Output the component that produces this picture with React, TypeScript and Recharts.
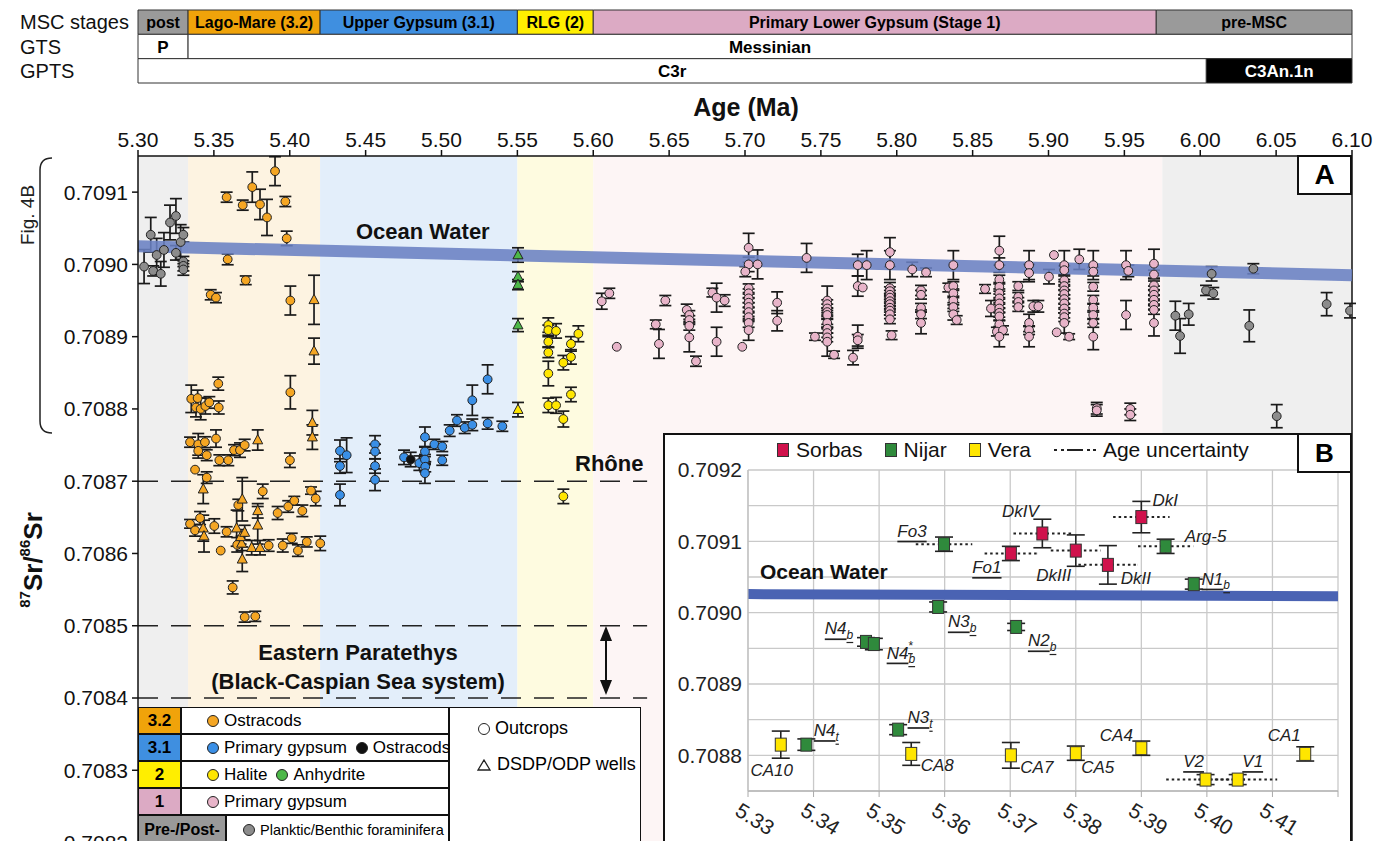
import React from "react";
import {
  ComposedChart,
  Scatter,
  ErrorBar,
  XAxis,
  YAxis,
  ReferenceArea,
  ReferenceLine,
  CartesianGrid,
} from "recharts";

const FONT = "'Liberation Sans', Arial, Helvetica, sans-serif";
const NARROW = "'Liberation Sans Narrow', 'Arial Narrow', 'Liberation Sans', Arial, sans-serif";

// ---- header bars (age boundaries in Ma) ----
const rowNames = ["MSC stages", "GTS", "GPTS"];
const stageNames = ["post", "Lago-Mare (3.2)", "Upper Gypsum (3.1)", "RLG (2)", "Primary Lower Gypsum (Stage 1)", "pre-MSC"];
const stageBounds = [5.3, 5.333, 5.42, 5.55, 5.6, 5.971, 6.1];
const stageColors = ["#9a9a9a", "#f0a30a", "#3f8fe0", "#ffee00", "#dcaac4", "#9a9a9a"];
const gtsNames = ["P", "Messinian"];
const gtsBounds = [5.3, 5.333, 6.1];
const gptsNames = ["C3r", "C3An.1n"];
const gptsBounds = [5.3, 6.004, 6.1];

// background shading of panel A
const bandBounds = [5.3, 5.333, 5.42, 5.55, 5.6, 5.975, 6.1];
const bandColors = ["#efefef", "#fdf3e1", "#e3eefa", "#fefbe0", "#fdf5f5", "#efefef"];

const xTicks = [5.3, 5.35, 5.4, 5.45, 5.5, 5.55, 5.6, 5.65, 5.7, 5.75, 5.8, 5.85, 5.9, 5.95, 6.0, 6.05, 6.1];
const yTicks = [0.7082, 0.7083, 0.7084, 0.7085, 0.7086, 0.7087, 0.7088, 0.7089, 0.709, 0.7091];

// ocean water trend (start, end)
const oceanX = [5.3, 6.1];
const oceanY = [0.709025, 0.708985];
const refLevels = [0.7087, 0.7085, 0.7084];

// ---- panel A data: [age, 87Sr/86Sr, 2sigma] ----
const foraminifera = [
  [5.304, 0.708997, 0.0000235], [5.3084, 0.709041, 0.000024], [5.31, 0.708991, 0.000007],
  [5.3123, 0.709013, 0.000023], [5.315, 0.708987, 0.000017], [5.3171, 0.70902, 0.000024],
  [5.3211, 0.709058, 0.000024], [5.325, 0.709067, 0.000024], [5.325, 0.709016, 0.00001],
  [5.3281, 0.709031, 0.000024], [5.3299, 0.709041, 0.00001], [5.3299, 0.709004, 0.000007],
  [5.3299, 0.708998, 0.000007], [5.3299, 0.708993, 0.000008],
  [5.9836, 0.708929, 0.00002], [5.9867, 0.708901, 0.000024], [5.9924, 0.708931, 0.000015],
  [6.0038, 0.708964, 0.000007], [6.0086, 0.70896, 0.000008], [6.0075, 0.708987, 0.00001],
  [6.0323, 0.708915, 0.000022], [6.035, 0.708994, 0.000007], [6.0504, 0.70879, 0.000016],
  [6.0833, 0.708945, 0.000016], [6.0987, 0.708936, 0.00001],
];

const lagoMareOstracods = [
  [5.3584, 0.709093, 0.000007], [5.369, 0.709082, 0.000007], [5.3753, 0.709107, 0.000021],
  [5.3804, 0.709083, 0.000021], [5.385, 0.709065, 0.000025], [5.3903, 0.709129, 0.00002],
  [5.3971, 0.709087, 0.000007], [5.398, 0.709036, 0.00001], [5.3591, 0.709007, 0.0000075],
  [5.371, 0.708978, 0.000006], [5.3479, 0.708958, 0.000007], [5.3514, 0.708954, 0.000007],
  [5.4004, 0.70895, 0.00002], [5.4004, 0.708823, 0.000023], [5.3529, 0.708835, 0.000009],
  [5.3532, 0.708802, 0.000009], [5.3351, 0.708814, 0.000019], [5.3382, 0.708802, 0.000013],
  [5.3393, 0.708815, 0.000011], [5.3413, 0.7088, 0.000015], [5.3444, 0.708804, 0.000011],
  [5.347, 0.708809, 0.000008], [5.3343, 0.708754, 0.000007], [5.3397, 0.708751, 0.000015],
  [5.3397, 0.708742, 0.00001], [5.3441, 0.708754, 0.0000075], [5.3453, 0.708736, 0.0000075],
  [5.3514, 0.708759, 0.000012], [5.3536, 0.708729, 0.0000075], [5.3595, 0.708729, 0.0000075],
  [5.3633, 0.708743, 0.0000075], [5.3672, 0.708743, 0.00001], [5.3703, 0.70875, 0.000008],
  [5.4001, 0.708729, 0.00001], [5.3376, 0.708716, 0], [5.3453, 0.708705, 0.000008],
  [5.3409, 0.708649, 0.000009], [5.3343, 0.708641, 0.000006], [5.3376, 0.708632, 0.000008],
  [5.3503, 0.708638, 0.00001], [5.3545, 0.708604, 0], [5.3584, 0.70863, 0.000007],
  [5.3661, 0.708667, 0.000008], [5.3654, 0.708612, 0.00001], [5.3822, 0.708686, 0.00001],
  [5.3861, 0.708611, 0.000008], [5.392, 0.708656, 0.000009], [5.3954, 0.708611, 0.000009],
  [5.399, 0.708665, 0.000008], [5.4013, 0.708621, 0.000007], [5.403, 0.708673, 0.000006],
  [5.4054, 0.708604, 0.000008], [5.4083, 0.708659, 0.000008], [5.4112, 0.708616, 0.000007],
  [5.414, 0.708687, 0.000005], [5.4171, 0.708676, 0.00001], [5.4201, 0.708614, 0.00001],
  [5.3624, 0.708553, 0.000009], [5.3703, 0.708512, 0.000007], [5.3773, 0.708513, 0.000007],
];

const lagoMareWells = [
  [5.416, 0.708951, 0.000034], [5.416, 0.70888, 0.000018], [5.4149, 0.708781, 0.000017],
  [5.4149, 0.708761, 0.000017], [5.3789, 0.708757, 0.000014], [5.343, 0.708689, 0.00002],
  [5.343, 0.708635, 0.000018], [5.3435, 0.708624, 0.000022], [5.3687, 0.708675, 0.00003],
  [5.365, 0.708635, 0.000025], [5.3683, 0.708614, 0.00001], [5.3676, 0.708623, 0.00001],
  [5.3703, 0.708629, 0.00001], [5.3687, 0.708592, 0.000017], [5.3749, 0.708608, 0.00001],
  [5.3789, 0.708659, 0.00001], [5.3789, 0.708639, 0.000026], [5.3804, 0.708608, 0.00001],
];

const upperGypsum = [
  [5.4331, 0.708742, 0.000015], [5.4331, 0.708721, 0.00001], [5.4331, 0.708681, 0.000015],
  [5.4375, 0.708736, 0.000024], [5.4562, 0.708751, 0.000012], [5.4562, 0.708741, 0.00001],
  [5.4562, 0.708721, 0.00001], [5.4562, 0.708702, 0.000015], [5.4753, 0.708733, 0.00001],
  [5.4854, 0.708725, 0.00001], [5.4891, 0.708761, 0.000014], [5.4891, 0.708741, 0.000007],
  [5.4891, 0.70873, 0.000007], [5.4893, 0.70872, 0.000007], [5.4891, 0.708711, 0.000014],
  [5.4953, 0.708751, 0.000007], [5.5005, 0.708748, 0.000007], [5.5005, 0.708729, 0.000007],
  [5.5054, 0.70877, 0.000008], [5.5102, 0.708784, 0.000008], [5.5153, 0.708774, 0.000008],
  [5.5203, 0.708778, 0.000008], [5.5203, 0.708812, 0.000021], [5.5304, 0.70878, 0.000008],
  [5.5304, 0.708841, 0.00002], [5.5401, 0.708776, 0.000007],
];
const upperGypsumOstracods = [[5.4797, 0.70873, 0.00001]];

const halite = [
  [5.5704, 0.708916, 0.00001], [5.5704, 0.708909, 0.000007], [5.5704, 0.708893, 0.000007],
  [5.5704, 0.708878, 0.000007], [5.5704, 0.708849, 0.000017], [5.5704, 0.708805, 0.00001],
  [5.5755, 0.708908, 0.00001], [5.5755, 0.708805, 0.000011], [5.5803, 0.708864, 0.00001],
  [5.5803, 0.708786, 0.000011], [5.5853, 0.70889, 0.00001], [5.5853, 0.708872, 0.00001],
  [5.5853, 0.70882, 0.00001], [5.5902, 0.708904, 0.000011], [5.5803, 0.708679, 0.00001],
];
const haliteWells = [[5.5504, 0.708799, 0.00001]];
const anhydriteWells = [
  [5.5504, 0.709013, 0.00001], [5.5504, 0.708983, 0.000007], [5.5504, 0.708972, 0.000007],
  [5.5504, 0.708916, 0.000009],
];

const lowerGypsum = [
  [5.6056, 0.708949, 0.000011], [5.6106, 0.70896, 0.000007], [5.6155, 0.708886, 0],
  [5.6412, 0.708917, 0.000006], [5.6433, 0.70889, 0.00002], [5.6475, 0.70895, 0.000007],
  [5.6616, 0.708937, 0.000008], [5.6633, 0.70893, 0.000006], [5.6633, 0.708923, 0.000006],
  [5.6633, 0.708915, 0.000006], [5.6633, 0.708899, 0.00002], [5.6677, 0.708866, 0.000007],
  [5.6785, 0.708961, 0.000006], [5.6813, 0.708954, 0.00002], [5.6813, 0.708893, 0.00002],
  [5.6866, 0.70895, 0.000008], [5.6982, 0.708886, 0], [5.7024, 0.709023, 0.00002],
  [5.7024, 0.709, 0.00001], [5.7002, 0.70899, 0.000007],
  [5.7024, 0.708967, 0.000006], [5.7024, 0.70896, 0.000006], [5.7024, 0.708953, 0.000006],
  [5.7024, 0.708947, 0.000006], [5.7024, 0.708941, 0.000006], [5.7024, 0.708934, 0.000006],
  [5.7024, 0.708927, 0.000006], [5.7024, 0.708919, 0.000006], [5.7024, 0.708909, 0.000014],
  [5.7083, 0.709, 0.00002], [5.7212, 0.708947, 0.000015], [5.7212, 0.708922, 0.000014],
  [5.7406, 0.709009, 0.00002], [5.7461, 0.7089, 0.000005],
  [5.7542, 0.70895, 0.00002], [5.7542, 0.708945, 0.000006], [5.7542, 0.708939, 0.000006],
  [5.7542, 0.708934, 0.000006], [5.7542, 0.70893, 0.000006], [5.7542, 0.708919, 0.000006],
  [5.7542, 0.708911, 0.000006], [5.7542, 0.708905, 0.000006], [5.7542, 0.708899, 0.000006],
  [5.7542, 0.708893, 0.00002], [5.7587, 0.708875, 0.000005], [5.7712, 0.708871, 0.00001],
  [5.7743, 0.7089, 0.000016], [5.7743, 0.708895, 0.000008], [5.7743, 0.708999, 0.000015],
  [5.7743, 0.70897, 0.000014], [5.7776, 0.708968, 0], [5.7802, 0.708999, 0.00002],
  [5.7955, 0.709017, 0.00002], [5.7955, 0.708999, 0.00002],
  [5.7955, 0.708967, 0.000008], [5.7955, 0.708963, 0.000006], [5.7955, 0.708958, 0.000006],
  [5.7955, 0.708954, 0.000006], [5.7955, 0.708949, 0.000006], [5.7955, 0.708945, 0.000006],
  [5.7955, 0.70894, 0.000006], [5.7955, 0.708936, 0.000006], [5.7955, 0.708931, 0.000006],
  [5.7955, 0.708924, 0.000006], [5.7966, 0.708902, 0.000006],
  [5.8102, 0.708993, 0.00001], [5.8193, 0.708989, 0.000006],
  [5.816, 0.708964, 0.000007], [5.816, 0.708958, 0.000006], [5.816, 0.70894, 0.000006],
  [5.816, 0.708931, 0.000006], [5.816, 0.708919, 0.000015], [5.834, 0.708968, 0.000006],
  [5.8373, 0.708999, 0.00002], [5.8373, 0.70897, 0.000006], [5.8373, 0.70896, 0.000006],
  [5.8373, 0.70895, 0.000006], [5.8373, 0.708941, 0.000006], [5.8373, 0.708931, 0.000008],
  [5.8395, 0.708923, 0.000006], [5.8582, 0.708966, 0.000006], [5.8621, 0.708939, 0.000011],
  [5.8676, 0.709019, 0.00002], [5.8676, 0.708999, 0.00001],
  [5.8676, 0.708979, 0.000006], [5.8676, 0.708969, 0.000006], [5.8676, 0.70896, 0.000006],
  [5.8676, 0.708953, 0.000006], [5.8676, 0.708946, 0.000006], [5.8676, 0.708939, 0.000006],
  [5.8676, 0.708933, 0.000006], [5.8676, 0.708928, 0.000006], [5.8676, 0.708917, 0.000006],
  [5.866, 0.708907, 0.000006], [5.87, 0.708909, 0.000006], [5.8676, 0.7089, 0.000014],
  [5.8801, 0.70897, 0.000006], [5.8801, 0.708955, 0.000006], [5.8801, 0.708948, 0.000006],
  [5.8801, 0.708941, 0.000006], [5.8872, 0.708999, 0.00002], [5.8872, 0.708988, 0.000012],
  [5.8872, 0.708919, 0.000012], [5.8872, 0.708909, 0.000006], [5.8872, 0.7089, 0.000014],
  [5.89, 0.708942, 0.000008], [5.8933, 0.708942, 0.000008], [5.9003, 0.708983, 0.00001],
  [5.9036, 0.709013, 0], [5.9054, 0.708906, 0],
  [5.9104, 0.708999, 0.00002], [5.9104, 0.708992, 0.000006], [5.9104, 0.708978, 0.000006],
  [5.9104, 0.70897, 0.000006], [5.9104, 0.708964, 0.000006], [5.9104, 0.708959, 0.000006],
  [5.9104, 0.708952, 0.000006], [5.9104, 0.708946, 0.000006], [5.9104, 0.708939, 0.000006],
  [5.9104, 0.708932, 0.000006], [5.9104, 0.708927, 0.000006], [5.9104, 0.708919, 0.000014],
  [5.9136, 0.7089, 0.000004], [5.9203, 0.709007, 0.000014],
  [5.9295, 0.708999, 0.00002], [5.9295, 0.70899, 0.000006], [5.9295, 0.708969, 0.000006],
  [5.9295, 0.708951, 0.000006], [5.9295, 0.70894, 0.000006], [5.9295, 0.70893, 0.000006],
  [5.9295, 0.708919, 0.000006], [5.9295, 0.7089, 0.000018],
  [5.9318, 0.708801, 0.000008], [5.9318, 0.708798, 0.000008],
  [5.9511, 0.708999, 0.00002], [5.9526, 0.708991, 0.000008], [5.9511, 0.70893, 0.00002],
  [5.9539, 0.7088, 0.000008], [5.9539, 0.708792, 0.000008],
  [5.9695, 0.709001, 0.00002], [5.9695, 0.708986, 0.000006], [5.9695, 0.708971, 0.000006],
  [5.9695, 0.708964, 0.000006], [5.9695, 0.708958, 0.000006], [5.9695, 0.708951, 0.000006],
  [5.9695, 0.708944, 0.000006], [5.9695, 0.708937, 0.000006], [5.9695, 0.708919, 0.000018],
];

// ---- panel B data: [label, age, 87Sr/86Sr, 2sigma, age uncertainty] ----
const sorbas = [
  ["DkIV", 5.3749, 0.709111, 0.00002, 0.0044],
  ["Fo1", 5.3701, 0.709083, 0.00001, 0.004],
  ["DkIII", 5.38, 0.709087, 0.000022, 0.0038],
  ["DkII", 5.3849, 0.709067, 0.000027, 0.0045],
  ["DkI", 5.39, 0.709134, 0.000022, 0.0043],
];
const nijar = [
  ["Fo3", 5.3599, 0.709096, 0.00001, 0.0043],
  ["Arg-5", 5.3937, 0.709093, 0.00001, 0.0042],
  ["N1_b", 5.398, 0.70904, 0.000007, 0],
  ["N3_b", 5.359, 0.709008, 0.000007, 0],
  ["N2_b", 5.3709, 0.70898, 0.000005, 0],
  ["N4_b", 5.348, 0.708959, 0.000006, 0],
  ["N4_b^*", 5.3492, 0.708956, 0.000008, 0],
  ["N4_t", 5.3389, 0.708815, 0.000008, 0],
  ["N3_t", 5.3529, 0.708836, 0.000007, 0],
];
const vera = [
  ["CA10", 5.335, 0.708815, 0.000019, 0],
  ["CA8", 5.3549, 0.708802, 0.000016, 0],
  ["CA7", 5.3701, 0.7088, 0.000018, 0],
  ["CA5", 5.38, 0.708803, 0.00001, 0],
  ["CA4", 5.39, 0.70881, 0.00001, 0],
  ["V2", 5.3998, 0.708766, 0.000007, 0.006],
  ["V1", 5.4047, 0.708766, 0.000007, 0.006],
  ["CA1", 5.415, 0.708802, 0.00001, 0],
];
const insetXTicks = [5.33, 5.34, 5.35, 5.36, 5.37, 5.38, 5.39, 5.4, 5.41, 5.42];
const insetYTicks = [0.70875, 0.7088, 0.70885, 0.7089, 0.70895, 0.709, 0.70905, 0.7091, 0.70915, 0.7092];
const insetOceanY = [0.709026, 0.709023];

// label placement (px offset from the marker) and styling
const labelOffsets: Record<string, [number, number]> = {
  DkIV: [-22, -22], Fo1: [-24, 14], DkIII: [-22, 25], DkII: [28, 14], DkI: [24, -17],
  Fo3: [-32, -13], "Arg-5": [40, -10], N1_b: [22, -5], N3_b: [24, 15], N2_b: [26, 14],
  N4_b: [-27, -13], "N4_b^*": [27, 9], N4_t: [20, -14], N3_t: [22, -12],
  CA10: [-9, 26], CA8: [26, 12], CA7: [26, 12], CA5: [22, 14], CA4: [-25, -13],
  V2: [-12, -18], V1: [15, -18], CA1: [-21, -18],
};
const underlined = ["Fo3", "Fo1", "N1_b", "N3_b", "N2_b", "N4_b", "N4_b^*", "N4_t", "N3_t", "V2", "V1"];

const pts = (rows: number[][]) => rows.map(([x, y, e]) => ({ x, y, e }));
const insetPts = (rows: any[]) => rows.map(([name, x, y, e, xe]) => ({ name, x, y, e, xe }));

const circleShape = (fill: string) => (p: any) =>
  <circle cx={p.cx} cy={p.cy} r={4.4} fill={fill} stroke="#222" strokeWidth={1} />;
const triangleShape = (fill: string) => (p: any) =>
  <path d={`M${p.cx},${p.cy - 5.5}L${p.cx + 5},${p.cy + 3.8}L${p.cx - 5},${p.cy + 3.8}Z`} fill={fill} stroke="#222" strokeWidth={1} />;

const InsetLabel = ({ x, y, id }: { x: number; y: number; id: string }) => {
  const [main, rest] = id.split("_");
  const [sub, sup] = rest ? rest.split("^") : [undefined, undefined];
  return (
    <text x={x} y={y} textAnchor="middle" dominantBaseline="central" fontSize={17}
      fontStyle="italic" fontFamily={FONT} fill="#222"
      textDecoration={underlined.includes(id) ? "underline" : undefined}>
      {main}
      {sub && <tspan fontSize={12} dy={6}>{sub}</tspan>}
      {sup && <tspan fontSize={12} dx={-7} dy={-13}>{sup}</tspan>}
    </text>
  );
};

const squareShape = (fill: string) => (p: any) => {
  const off = labelOffsets[p.payload.name] || [0, 0];
  return (
    <g>
      <rect x={p.cx - 5.5} y={p.cy - 6.5} width={11} height={13} fill={fill} stroke="#333" strokeWidth={1} />
      <InsetLabel x={p.cx + off[0]} y={p.cy + off[1]} id={p.payload.name} />
    </g>
  );
};

const RowTick = (p: any) => (
  <text x={20} y={p.y} dy="0.36em" fontSize={20} fontFamily={FONT} fill="#111">{rowNames[p.index]}</text>
);

const InsetXTick = (p: any) => {
  const v = p.payload.value;
  if (v > 5.415) return null;
  return (
    <g transform={`translate(${p.x - 6},${p.y + 2})`}>
      <text transform="rotate(32)" dy="0.75em" fontSize={21} fontFamily={FONT} fill="#222">{v.toFixed(2)}</text>
    </g>
  );
};

const headerLabel = (value: string, fill = "#000", size = 16) => ({
  value, position: "center" as const, fontFamily: NARROW, fontWeight: 700, fontSize: size, fill,
});

function Header() {
  return (
    <ComposedChart width={1386} height={90} margin={{ top: 10, right: 34, bottom: 7, left: 0 }}
      data={[{ x: 5.3, y: 0 }, { x: 6.1, y: 3 }]}>
      <XAxis type="number" dataKey="x" domain={[5.3, 6.1]} hide />
      <YAxis type="number" dataKey="y" domain={[0, 3]} width={138} ticks={[2.5, 1.5, 0.5]}
        tick={<RowTick />} axisLine={false} tickLine={false} interval={0} />
      {stageNames.map((n, i) => (
        <ReferenceArea key={n} x1={stageBounds[i]} x2={stageBounds[i + 1]} y1={2} y2={3}
          fill={stageColors[i]} fillOpacity={1} stroke="#333" strokeWidth={1}
          label={headerLabel(n)} />
      ))}
      {gtsNames.map((n, i) => (
        <ReferenceArea key={n} x1={gtsBounds[i]} x2={gtsBounds[i + 1]} y1={1} y2={2}
          fill="#fff" fillOpacity={1} stroke="#333" strokeWidth={1}
          label={headerLabel(n, "#000", 17)} />
      ))}
      {gptsNames.map((n, i) => (
        <ReferenceArea key={n} x1={gptsBounds[i]} x2={gptsBounds[i + 1]} y1={0} y2={1}
          fill={i === 1 ? "#000" : "#fff"} fillOpacity={1} stroke="#333" strokeWidth={1}
          label={headerLabel(n, i === 1 ? "#fff" : "#000", 17)} />
      ))}
    </ComposedChart>
  );
}

function PanelA() {
  const series = [
    { d: foraminifera, c: "#8c8c8c", t: "c" },
    { d: lowerGypsum, c: "#e8b4c9", t: "c" },
    { d: lagoMareOstracods, c: "#f5a623", t: "c" },
    { d: lagoMareWells, c: "#f5a623", t: "t" },
    { d: upperGypsum, c: "#3a8fe6", t: "c" },
    { d: upperGypsumOstracods, c: "#111111", t: "c" },
    { d: halite, c: "#ffe600", t: "c" },
    { d: haliteWells, c: "#ffe600", t: "t" },
    { d: anhydriteWells, c: "#4cb848", t: "t" },
  ];
  return (
    <ComposedChart width={1386} height={870} margin={{ top: 126, right: 34, bottom: 13, left: 58 }}>
      <XAxis type="number" dataKey="x" orientation="top" domain={[5.3, 6.1]} ticks={xTicks} interval={0}
        tickFormatter={(v: number) => v.toFixed(2)} height={30} tickSize={6} tickMargin={3}
        tick={{ fontSize: 21, fill: "#111", fontFamily: FONT }} stroke="#111" strokeWidth={1.5} allowDataOverflow />
      <YAxis type="number" dataKey="y" domain={[0.70818, 0.70915]} ticks={yTicks} interval={0}
        tickFormatter={(v: number) => v.toFixed(4)} width={80} tickSize={6} tickMargin={4}
        tick={{ fontSize: 21, fill: "#111", fontFamily: FONT }} stroke="#111" strokeWidth={1.5} allowDataOverflow />
      {bandColors.map((c, i) => (
        <ReferenceArea key={c + i} x1={bandBounds[i]} x2={bandBounds[i + 1]} fill={c} fillOpacity={1} />
      ))}
      {refLevels.map((lv) => (
        <ReferenceLine key={lv} segment={[{ x: 5.3, y: lv }, { x: 5.6355, y: lv }]}
          stroke="#222" strokeWidth={1.6} strokeDasharray="20 13" />
      ))}
      <ReferenceLine x={6.1} stroke="#111" strokeWidth={1.5} />
      {series.map((s, i) => (
        <Scatter key={i} data={pts(s.d)} isAnimationActive={false}
          shape={s.t === "c" ? circleShape(s.c) : triangleShape(s.c)}>
          <ErrorBar dataKey="e" direction="y" width={6} stroke="#1a1a1a" strokeWidth={1.7} />
        </Scatter>
      ))}
      <ReferenceLine segment={[{ x: oceanX[0], y: oceanY[0] }, { x: oceanX[1], y: oceanY[1] }]}
        stroke="#6a81c3" strokeOpacity={0.88} strokeWidth={12} />
    </ComposedChart>
  );
}

function PanelB() {
  const groups = [
    { d: vera, c: "#ffe600" },
    { d: nijar, c: "#2f8a3c" },
    { d: sorbas, c: "#d0124c" },
  ];
  return (
    <ComposedChart width={689} height={410} margin={{ top: 37, right: 14, bottom: 2, left: 5 }}>
      <CartesianGrid stroke="#c9c9c9" strokeWidth={1.3} />
      <XAxis type="number" dataKey="x" domain={[5.33, 5.42]} ticks={insetXTicks} interval={0}
        tick={<InsetXTick />} height={50} stroke="#aaa" tickSize={6} />
      <YAxis type="number" dataKey="y" domain={[0.70875, 0.7092]} ticks={insetYTicks} interval={0}
        tickFormatter={(v: number) => (Math.round(v * 1e5) % 10 === 0 ? v.toFixed(4) : "")}
        width={80} tickSize={4} tickMargin={2} tickLine={false} axisLine={{ stroke: "#bbb" }}
        tick={{ fontSize: 21, fill: "#222", fontFamily: FONT }} />
      <ReferenceLine segment={[{ x: 5.33, y: insetOceanY[0] }, { x: 5.42, y: insetOceanY[1] }]}
        stroke="#4a63b3" strokeWidth={10} />
      {groups.map((g, i) => (
        <Scatter key={i} data={insetPts(g.d)} isAnimationActive={false} shape={squareShape(g.c)}>
          <ErrorBar dataKey="xe" direction="x" width={0} stroke="#222" strokeWidth={2} strokeDasharray="2.5 3" />
          <ErrorBar dataKey="e" direction="y" width={9} stroke="#222" strokeWidth={1.6} />
        </Scatter>
      ))}
    </ComposedChart>
  );
}

const dot = (c: string, tri = false): React.ReactNode =>
  tri ? (
    <svg width={14} height={12} style={{ marginRight: 6, flex: "none" }}>
      <path d="M7,1L13,11L1,11Z" fill="none" stroke="#222" strokeWidth={1.3} />
    </svg>
  ) : (
    <span style={{ display: "inline-block", flex: "none", width: 10, height: 10, borderRadius: 6, background: c,
      border: "1.3px solid #222", marginRight: 5 }} />
  );

const cell = (left: number, top: number, width: number, height: number, bg: string, content: React.ReactNode, extra: any = {}) => (
  <div style={{ position: "absolute", left, top, width, height, background: bg, border: "1.5px solid #111",
    boxSizing: "border-box", display: "flex", alignItems: "center", whiteSpace: "nowrap", fontFamily: FONT, ...extra }}>{content}</div>
);

function LegendA() {
  const rows = [
    { n: "3.2", bg: "#f0a30a", items: [["#f5a623", "Ostracods"]] },
    { n: "3.1", bg: "#3f8fe0", items: [["#3a8fe6", "Primary gypsum"], ["#111", "Ostracods"]] },
    { n: "2", bg: "#ffee00", items: [["#ffe600", "Halite"], ["#4cb848", "Anhydrite"]] },
    { n: "1", bg: "#dcaac4", items: [["#e8b4c9", "Primary gypsum"]] },
  ];
  return (
    <>
      {rows.map((r, i) => (
        <React.Fragment key={r.n}>
          {cell(138, 707 + i * 27, 43, 27, r.bg, r.n,
            { justifyContent: "center", fontWeight: 700, fontSize: 17 })}
          {cell(181, 707 + i * 27, 268, 27, "#fff",
            r.items.map(([c, t]) => (
              <span key={t} style={{ display: "inline-flex", alignItems: "center", marginRight: 9 }}>{dot(c)}{t}</span>
            )), { paddingLeft: 25, fontSize: 17 })}
        </React.Fragment>
      ))}
      {cell(138, 815, 88, 30, "#999", "Pre-/Post-", { justifyContent: "center", fontWeight: 700, fontSize: 16 })}
      {cell(226, 815, 223, 30, "#fff",
        <span style={{ display: "inline-flex", alignItems: "center" }}>{dot("#8c8c8c")}Planktic/Benthic foraminifera</span>,
        { paddingLeft: 16, fontSize: 14.5 })}
      <div style={{ position: "absolute", left: 449, top: 707, width: 192, height: 140, background: "#fff",
        border: "1.5px solid #111", boxSizing: "border-box", fontFamily: FONT, fontSize: 18 }}>
        <div style={{ position: "absolute", left: 28, top: 10, display: "flex", alignItems: "center" }}>{dot("#fff")}Outcrops</div>
        <div style={{ position: "absolute", left: 27, top: 46, display: "flex", alignItems: "center" }}>{dot("", true)}DSDP/ODP wells</div>
      </div>
    </>
  );
}

function LegendB() {
  const sq = (c: string) => (
    <span style={{ display: "inline-block", width: 10, height: 12, background: c, border: "1px solid #333", marginRight: 7 }} />
  );
  const items: [string, string][] = [["#d0124c", "Sorbas"], ["#2f8a3c", "Nijar"], ["#ffe600", "Vera"]];
  return (
    <div style={{ position: "absolute", left: 777, top: 438, display: "flex", alignItems: "center",
      fontFamily: FONT, fontSize: 21, color: "#111" }}>
      {items.map(([c, t]) => (
        <span key={t} style={{ display: "inline-flex", alignItems: "center", marginRight: 22 }}>{sq(c)}{t}</span>
      ))}
      <svg width={44} height={10} style={{ marginRight: 6 }}>
        <path d="M1,5H4M8,5H11M14,5H30M34,5H37M40,5H43" stroke="#222" strokeWidth={2} />
      </svg>
      Age uncertainty
    </div>
  );
}

export default function App() {
  return (
    <div style={{ position: "fixed", left: 0, top: 0, width: 1386, height: 841, overflow: "hidden", background: "#fff" }}>
      <div style={{ position: "absolute", left: 0, top: 0 }}><Header /></div>
      <div style={{ position: "absolute", left: 0, top: 0 }}><PanelA /></div>
      <svg width={1386} height={841} style={{ position: "absolute", left: 0, top: 0, pointerEvents: "none" }}
        fontFamily={FONT}>
        <text x={746} y={107} textAnchor="middle" dominantBaseline="central" fontSize={25} fontWeight={700} fill="#111">Age (Ma)</text>
        <text x={356} y={231} dominantBaseline="central" fontSize={22} fontWeight={700} fill="#111">Ocean Water</text>
        <text x={575} y={463} dominantBaseline="central" fontSize={22} fontWeight={700} fill="#111">Rhône</text>
        <text x={358} y={652} textAnchor="middle" dominantBaseline="central" fontSize={22} fontWeight={700} fill="#111">Eastern Paratethys</text>
        <text x={358} y={681} textAnchor="middle" dominantBaseline="central" fontSize={22} fontWeight={700} fill="#111">(Black-Caspian Sea system)</text>
        <path d="M606,640V682" stroke="#111" strokeWidth={2} />
        <path d="M606,626L612,641H600Z" fill="#111" />
        <path d="M606,695L612,680H600Z" fill="#111" />
        <path d="M52,158Q40,158 40,170V421Q40,433 52,433" fill="none" stroke="#222" strokeWidth={1.5} />
        <text transform="translate(27,215) rotate(-90)" textAnchor="middle" dominantBaseline="central" fontSize={19} fill="#222">Fig. 4B</text>
        <text transform="translate(33,560) rotate(-90)" textAnchor="middle" dominantBaseline="central" fontSize={26} fontWeight={700} fill="#111">
          <tspan fontSize={15} dy={-9}>87</tspan><tspan dy={9}>Sr/</tspan><tspan fontSize={15} dy={-9}>86</tspan><tspan dy={9}>Sr</tspan>
        </text>
      </svg>
      <div style={{ position: "absolute", left: 1297, top: 155, width: 55, height: 40, border: "2px solid #111",
        boxSizing: "border-box", background: "#fff", display: "flex", alignItems: "center", justifyContent: "center",
        fontFamily: FONT, fontWeight: 700, fontSize: 28 }}>A</div>
      <LegendA />
      <div style={{ position: "absolute", left: 663, top: 433, width: 689, height: 420, background: "#fff" }}>
        <PanelB />
        <div style={{ position: "absolute", left: 97, top: 127, fontFamily: FONT, fontWeight: 700, fontSize: 21, color: "#111" }}>Ocean Water</div>
        <div style={{ position: "absolute", left: 0, top: 0, width: 689, height: 420, border: "2px solid #111", boxSizing: "border-box" }} />
        <div style={{ position: "absolute", left: 634, top: 0, width: 55, height: 40, border: "2px solid #111",
          boxSizing: "border-box", background: "#fff", display: "flex", alignItems: "center", justifyContent: "center",
          fontFamily: FONT, fontWeight: 700, fontSize: 26 }}>B</div>
      </div>
      <LegendB />
    </div>
  );
}
